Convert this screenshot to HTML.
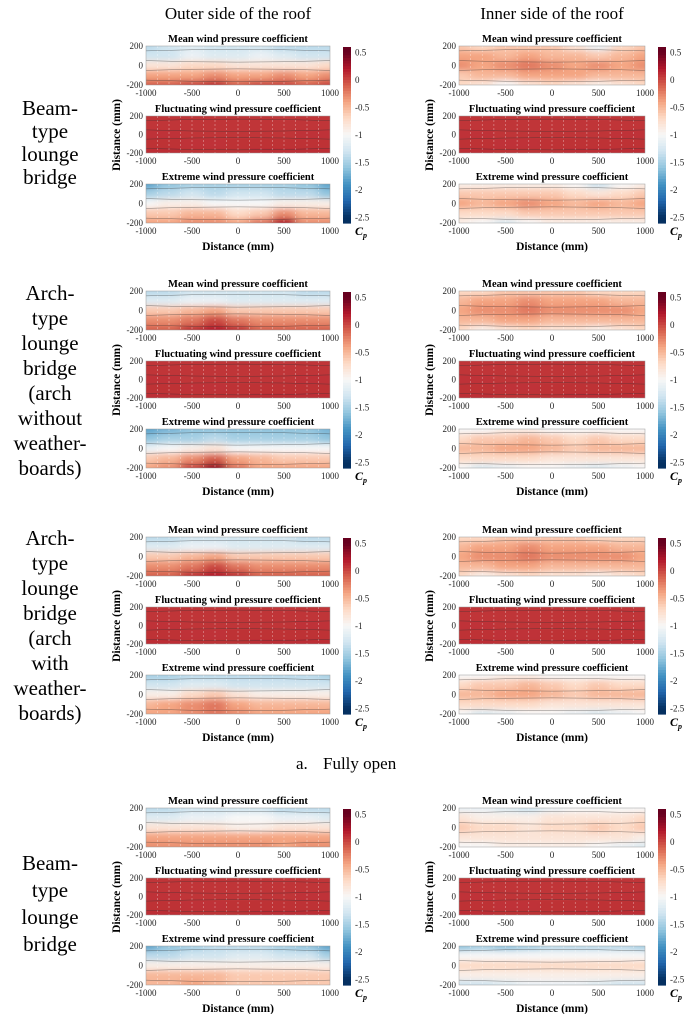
<!DOCTYPE html>
<html><head><meta charset="utf-8">
<style>
html,body{margin:0;padding:0;background:#fff;}
svg{display:block;}
text{font-family:"Liberation Serif",serif;}
</style></head>
<body>
<svg id="fig" width="685" height="1014" viewBox="0 0 685 1014" xmlns="http://www.w3.org/2000/svg">
<defs><filter id="blur" x="-10%" y="-30%" width="120%" height="160%"><feGaussianBlur stdDeviation="5 3"/></filter></defs>
<text x="238" y="19" font-size="17" text-anchor="middle">Outer side of the roof</text>
<text x="552" y="19" font-size="17" text-anchor="middle">Inner side of the roof</text>
<text x="296" y="769" font-size="17">a.</text>
<text x="323" y="769" font-size="17">Fully open</text>
<g id="labels" font-size="21" text-anchor="middle"></g>
<g id="plots"></g>
</svg>
<script>
const xCats=[-1000,-750,-500,-250,0,250,500,750,1000];
const yCats=[200,100,0,-100,-200];
const xTicks=[-1000,-500,0,500,1000];
const yTicks=[200,0,-200];
const cbTicks=[0.5,0,-0.5,-1,-1.5,-2,-2.5];
const outerMean1=[[-1.4,-1.3,-1.2,-1.3,-1.3,-1.3,-1.4,-1.4,-1.4],[-1.3,-1.3,-1.1,-1.2,-1.2,-1.1,-1.2,-1.3,-1.3],[-0.8,-0.8,-0.7,-0.7,-0.8,-0.8,-0.8,-0.8,-0.7],[-0.4,-0.4,-0.4,-0.3,-0.4,-0.4,-0.3,-0.4,-0.3],[-0.1,-0.1,0.0,0.1,-0.1,0.0,0.0,-0.1,0.0]];
const outerMean2=[[-1.4,-1.4,-1.3,-1.3,-1.3,-1.3,-1.3,-1.4,-1.4],[-1.2,-1.2,-1.1,-1.1,-1.2,-1.2,-1.2,-1.2,-1.2],[-0.6,-0.6,-0.5,-0.4,-0.6,-0.6,-0.6,-0.6,-0.6],[-0.3,-0.3,-0.2,0.0,-0.2,-0.3,-0.3,-0.3,-0.3],[-0.1,-0.1,0.1,0.2,0.1,-0.1,-0.1,-0.1,-0.1]];
const outerMean4=[[-1.4,-1.4,-1.3,-1.3,-1.3,-1.3,-1.4,-1.4,-1.4],[-1.2,-1.2,-1.1,-1.1,-1.0,-1.0,-1.1,-1.1,-1.2],[-0.8,-0.8,-0.8,-0.8,-0.9,-0.9,-0.8,-0.8,-0.8],[-0.4,-0.4,-0.4,-0.4,-0.4,-0.4,-0.4,-0.4,-0.4],[-0.3,-0.3,-0.3,-0.3,-0.3,-0.3,-0.4,-0.3,-0.3]];
const fluct=[[0.08,0.08,0.08,0.08,0.08,0.08,0.07,0.08,0.08],[0.08,0.08,0.08,0.08,0.08,0.08,0.08,0.08,0.08],[0.09,0.09,0.08,0.08,0.08,0.08,0.08,0.09,0.09],[0.10,0.10,0.09,0.09,0.10,0.10,0.10,0.10,0.10],[0.11,0.11,0.10,0.10,0.10,0.11,0.11,0.11,0.11]];
const outerExt1=[[-1.8,-1.6,-1.5,-1.5,-1.5,-1.5,-1.5,-1.6,-1.8],[-1.5,-1.4,-1.3,-1.4,-1.3,-1.3,-1.4,-1.4,-1.6],[-1.0,-0.9,-0.9,-1.0,-1.0,-1.0,-0.9,-0.9,-0.9],[-0.6,-0.6,-0.5,-0.5,-0.7,-0.6,-0.3,-0.5,-0.5],[-0.4,-0.4,-0.3,-0.3,-0.4,-0.2,0.2,-0.3,-0.3]];
const outerExt2=[[-1.8,-1.7,-1.6,-1.6,-1.6,-1.6,-1.6,-1.6,-1.7],[-1.6,-1.5,-1.5,-1.4,-1.5,-1.5,-1.5,-1.5,-1.6],[-1.1,-1.0,-0.9,-0.8,-1.0,-1.0,-1.0,-1.0,-1.0],[-0.6,-0.5,-0.3,-0.1,-0.4,-0.5,-0.6,-0.6,-0.6],[-0.4,-0.3,0.0,0.3,-0.2,-0.4,-0.4,-0.4,-0.4]];
const outerExt3=[[-1.5,-1.5,-1.4,-1.4,-1.4,-1.4,-1.4,-1.4,-1.5],[-1.3,-1.3,-1.2,-1.2,-1.3,-1.3,-1.3,-1.3,-1.3],[-0.9,-0.9,-0.7,-0.6,-0.8,-0.9,-0.9,-0.9,-0.9],[-0.5,-0.4,-0.3,-0.2,-0.4,-0.5,-0.5,-0.5,-0.5],[-0.4,-0.4,-0.3,-0.2,-0.3,-0.4,-0.4,-0.4,-0.4]];
const outerExt4=[[-1.8,-1.6,-1.5,-1.4,-1.4,-1.4,-1.5,-1.6,-1.8],[-1.4,-1.4,-1.3,-1.3,-1.2,-1.2,-1.3,-1.3,-1.5],[-0.9,-0.9,-0.9,-0.9,-0.9,-0.9,-0.9,-0.9,-0.9],[-0.5,-0.5,-0.5,-0.5,-0.6,-0.6,-0.6,-0.6,-0.6],[-0.5,-0.5,-0.4,-0.5,-0.6,-0.6,-0.6,-0.6,-0.6]];
const innerMean1=[[-0.6,-0.7,-0.6,-0.6,-0.6,-0.8,-1.1,-0.7,-0.6],[-0.4,-0.4,-0.5,-0.4,-0.5,-0.5,-0.6,-0.5,-0.4],[-0.3,-0.4,-0.3,-0.2,-0.3,-0.4,-0.3,-0.4,-0.3],[-0.6,-0.5,-0.5,-0.4,-0.4,-0.4,-0.5,-0.5,-0.5],[-0.7,-0.8,-1.0,-0.8,-0.7,-0.8,-0.9,-0.8,-0.7]];
const innerMean2=[[-0.7,-0.7,-0.6,-0.6,-0.6,-0.6,-0.7,-0.7,-0.7],[-0.5,-0.4,-0.4,-0.3,-0.4,-0.4,-0.4,-0.5,-0.5],[-0.4,-0.3,-0.3,-0.2,-0.3,-0.3,-0.3,-0.3,-0.4],[-0.5,-0.5,-0.4,-0.4,-0.5,-0.5,-0.5,-0.5,-0.5],[-0.7,-0.9,-0.8,-0.7,-0.8,-0.8,-0.9,-0.8,-0.7]];
const innerExt1=[[-0.9,-0.9,-0.9,-0.9,-0.9,-1.0,-1.3,-1.0,-0.9],[-0.6,-0.6,-0.6,-0.6,-0.6,-0.7,-0.8,-0.7,-0.6],[-0.4,-0.5,-0.4,-0.3,-0.4,-0.5,-0.4,-0.5,-0.4],[-0.7,-0.7,-0.7,-0.6,-0.6,-0.6,-0.6,-0.6,-0.6],[-0.9,-1.0,-1.2,-1.0,-0.9,-0.9,-0.9,-0.9,-0.9]];
const innerExt2=[[-1.0,-1.0,-0.9,-0.9,-1.0,-1.0,-1.0,-1.0,-1.0],[-0.7,-0.6,-0.6,-0.5,-0.6,-0.7,-0.6,-0.7,-0.7],[-0.5,-0.5,-0.4,-0.4,-0.5,-0.6,-0.5,-0.5,-0.5],[-0.7,-0.7,-0.7,-0.7,-0.8,-0.8,-0.8,-0.8,-0.8],[-1.0,-1.2,-1.1,-1.0,-1.0,-1.1,-1.2,-1.1,-1.0]];
const innerMean4=[[-1.1,-1.1,-1.2,-1.3,-1.1,-1.0,-1.0,-1.0,-1.0],[-0.8,-0.9,-0.9,-0.9,-0.8,-0.8,-0.8,-0.8,-0.7],[-0.6,-0.7,-0.7,-0.8,-0.7,-0.7,-0.6,-0.7,-0.6],[-0.8,-0.8,-0.8,-0.8,-0.8,-0.8,-0.8,-0.8,-0.9],[-1.0,-1.0,-0.9,-0.9,-0.9,-0.9,-1.0,-1.1,-1.2]];
const innerExt4=[[-1.6,-1.5,-1.6,-1.5,-1.4,-1.4,-1.4,-1.4,-1.5],[-1.0,-1.0,-1.0,-1.0,-1.0,-1.0,-1.0,-1.0,-1.0],[-0.7,-0.7,-0.7,-0.7,-0.7,-0.7,-0.7,-0.7,-0.7],[-0.9,-0.9,-0.9,-0.9,-0.9,-0.9,-0.9,-0.9,-0.9],[-1.3,-1.3,-1.2,-1.1,-1.1,-1.1,-1.2,-1.3,-1.3]];
const groupLabels=[["Beam-","type","lounge","bridge"],["Arch-","type","lounge","bridge","(arch","without","weather-","boards)"],["Arch-","type","lounge","bridge","(arch","with","weather-","boards)"],["Beam-","type","lounge","bridge"]];
const groupData=[
 [[outerMean1,fluct,outerExt1],[innerMean1,fluct,innerExt1]],
 [[outerMean2,fluct,outerExt2],[innerMean2,fluct,innerExt2]],
 [[outerMean2,fluct,outerExt3],[innerMean2,fluct,innerExt2]],
 [[outerMean4,fluct,outerExt4],[innerMean4,fluct,innerExt4]]
];
const titles=["Mean wind pressure coefficient","Fluctuating wind pressure coefficient","Extreme wind pressure coefficient"];

const NS="http://www.w3.org/2000/svg";
const stops=["#67001f","#b2182b","#d6604d","#f4a582","#fddbc7","#f7f7f7","#d1e5f0","#92c5de","#4393c3","#2166ac","#053061"];
function hex(c){return [1,3,5].map(i=>parseInt(c.substr(i,2),16));}
function cmap(v){let t=(0.5-v)/0.3;t=Math.max(0,Math.min(10,t));const i=Math.min(9,Math.floor(t)),f=t-i;const a=hex(stops[i]),b=hex(stops[i+1]);return "rgb("+a.map((x,k)=>Math.round(x+(b[k]-x)*f)).join(",")+")";}
function el(tag,attrs,parent){const e=document.createElementNS(NS,tag);for(const k in attrs)e.setAttribute(k,attrs[k]);parent.appendChild(e);return e;}
const plots=document.getElementById('plots');
const labels=document.getElementById('labels');
const offsets=[0,245,491,762];
const labelStart=[108,293,538,863];
const labelStep=[23,25,25,27];
let clipId=0;
groupLabels.forEach((lines,g)=>{
  lines.forEach((s,i)=>{
    const t=el('text',{x:50,y:labelStart[g]+i*labelStep[g]+7},labels);
    
    
    t.textContent=s;
  });
});
const panelY=[[46,85],[116,153],[184,223]];
const cols=[[146,330,343],[459,645,658]];
groupData.forEach((gd,g)=>{
  const o=offsets[g];
  gd.forEach((cd,c)=>{
    const [x0,x1,cbx]=cols[c];
    const sx=v=>x0+(v+1000)/2000*(x1-x0);
    const gg=el('g',{},plots);
    
    
    cd.forEach((grid,p)=>{
      const y0=panelY[p][0]+o,y1=panelY[p][1]+o;
      const sy=v=>y0+(200-v)/400*(y1-y0);
      const id='cp'+(clipId++);
      const cp=el('clipPath',{id:id},gg);el('rect',{x:x0,y:y0,width:x1-x0,height:y1-y0},cp);
      const pg=el('g',{'clip-path':'url(#'+id+')'},gg);
      
      
      const bg=el('g',{filter:'url(#blur)'},pg);
      const dx=(x1-x0)/(xCats.length-1),dy=(y1-y0)/(yCats.length-1);
      grid.forEach((row,r)=>row.forEach((v,i)=>{
        let cx=sx(xCats[i])-dx/2,cw=dx,cy=sy(yCats[r])-dy/2,ch=dy;
        if(i===0){cx-=15;cw+=15;} if(i===row.length-1)cw+=15;
        if(r===0){cy-=15;ch+=15;} if(r===grid.length-1)ch+=15;
        const rc=el('rect',{x:cx,y:cy,width:cw+0.5,height:ch+0.5,fill:cmap(v)},bg);
        
        
      }));
      for(let k=1;k<16;k++){const xx=x0+k*(x1-x0)/16;el('line',{x1:xx,x2:xx,y1:y0,y2:y1,stroke:'#fff','stroke-width':0.6,'stroke-dasharray':'2 2',opacity:0.5},pg);}
      for(let r=0;r<grid.length-1;r++){const yy=(sy(yCats[r])+sy(yCats[r+1]))/2;el('path',{d:'M'+x0+' '+yy+' Q'+((x0+x1)/2)+' '+(yy+(r%2?3:-3))+' '+x1+' '+yy,stroke:'#333','stroke-width':0.5,fill:'none',opacity:0.6},pg);}
      el('rect',{x:x0,y:y0,width:x1-x0,height:y1-y0,fill:'none',stroke:'#999','stroke-width':0.5},gg);
      const tt=el('text',{x:(x0+x1)/2,y:y0-4,'font-size':10.5,'font-weight':'bold','text-anchor':'middle'},gg);
      
      
      tt.textContent=titles[p];
      yTicks.forEach(v=>{const t=el('text',{x:x0-3,y:sy(v)+3,'font-size':9,'text-anchor':'end',fill:'#222'},gg);
        
        
        t.textContent=v;});
      xTicks.forEach(v=>{const t=el('text',{x:sx(v),y:y1+11,'font-size':9,'text-anchor':'middle',fill:'#222'},gg);
        
        
        t.textContent=v;});
    });
    const xl=el('text',{x:(x0+x1)/2,y:250+o,'font-size':11.5,'font-weight':'bold','text-anchor':'middle'},gg);
    
    
    xl.textContent='Distance (mm)';
    const yl=el('text',{x:0,y:0,'font-size':11.5,'font-weight':'bold','text-anchor':'middle',transform:'translate('+(x0-26)+','+(135+o)+') rotate(-90)'},gg);
    
    
    yl.textContent='Distance (mm)';
    const cy0=47+o,cy1=223+o,cyv=v=>cy0+(0.6-v)/3.2*(cy1-cy0);
    const cb=el('g',{},gg);
    
    
    for(let k=0;k<64;k++){const v1=0.6-k*3.2/64;el('rect',{x:cbx,y:cyv(v1),width:8,height:(cy1-cy0)/64+0.6,fill:cmap(v1-0.025)},cb);}
    cbTicks.forEach(v=>{const t=el('text',{x:cbx+12,y:cyv(v)+3,'font-size':9,fill:'#222'},cb);
      
      
      t.textContent=v;});
    const cpl=el('text',{x:cbx+12,y:cy1+12,'font-size':12,'font-weight':'bold','font-style':'italic'},cb);
    
    
    cpl.innerHTML='C<tspan font-size="8" dy="3">p</tspan>';
  });
});
</script>
</body></html>
